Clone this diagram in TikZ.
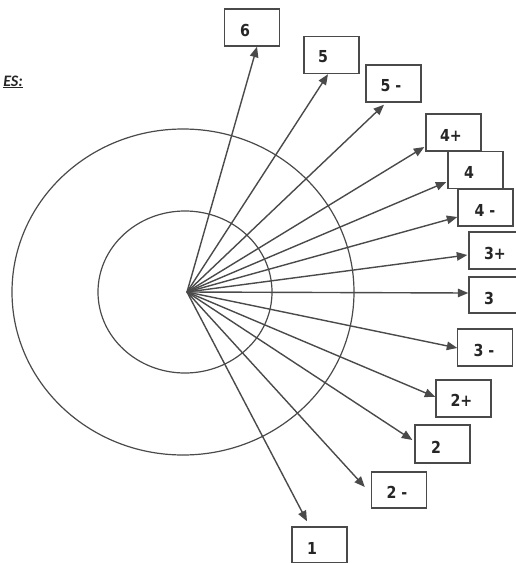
\documentclass[tikz,border=0pt]{standalone}
\usepackage{fontspec}
\usetikzlibrary{arrows.meta,calc}
\newfontfamily\lblfont[FakeStretch=0.86]{DejaVu Sans}
\newfontfamily\hdrfont{Carlito}
\definecolor{ink}{HTML}{4A4A4A}
\definecolor{txt}{HTML}{262626}
\begin{document}
\begin{tikzpicture}[x=1pt,y=-1pt,
  box/.style={draw=ink,line width=1.4pt,minimum width=55pt,minimum height=37pt,inner sep=0pt},
  lbl/.style={text=txt,font=\lblfont\bfseries\fontsize{16.5}{17}\selectfont,inner sep=0pt},
  ring/.style={draw=ink,line width=1.2pt},
  arr/.style={draw=ink,line width=1.4pt,-{Triangle[length=10.5pt,width=8.5pt]}}]
\useasboundingbox (0,0) rectangle (516,563);
% heading fragment
\node[anchor=base east,inner sep=0pt,text=txt,font=\hdrfont\bfseries\itshape\fontsize{16}{16}\selectfont] (hdr) at (23,86) {\underline{ES:}};
% rings
\draw[ring] (183,292) ellipse [x radius=171, y radius=163];
\draw[ring] (185,292) ellipse [x radius=87, y radius=81];
\coordinate (c) at (187,292);
% boxes
\node[box] (b6) at (252,27.5) {};
\node[box] (b5) at (331.5,55) {};
\node[box] (b5m) at (393.5,83.5) {};
\node[box] (b4p) at (453.5,132.5) {};
\node[box] (b4) at (475.5,170) {};
\node[box] (b4m) at (485.5,207.5) {};
\node[box] (b3p) at (496.5,250.5) {};
\node[box,minimum height=36pt] (b3) at (496.5,295) {};
\node[box] (b3m) at (485,347.5) {};
\node[box] (b2p) at (463.5,398.5) {};
\node[box,minimum height=38pt] (b2) at (442.5,444) {};
\node[box,minimum height=36pt] (b2m) at (399,490) {};
\node[box,minimum height=36pt] (b1) at (319.5,545) {};
% labels
\node[lbl] (t6) at (245,30) {6};
\node[lbl] (t5) at (323,57) {5};
\node[lbl] (t5m) at (391,86) {5 -};
\node[lbl] (t4p) at (451,135) {4+};
\node[lbl] (t4) at (469,172) {4};
\node[lbl] (t4m) at (485,210) {4 -};
\node[lbl] (t3p) at (495,253) {3+};
\node[lbl] (t3) at (489,298) {3};
\node[lbl] (t3m) at (484,350) {3 -};
\node[lbl] (t2p) at (461.5,400) {2+};
\node[lbl] (t2) at (436,447) {2};
\node[lbl] (t2m) at (397,492) {2 -};
\node[lbl] (t1) at (312,548) {1};
% arrows
\draw[arr] (c) -- ($(b6.south)+(5,0)$);
\draw[arr] (c) -- ($(b5.south)+(-3.5,0)$);
\draw[arr] (c) -- ($(b5m.south)+(-9.5,2)$);
\draw[arr] (c) -- ($(b4p.west)+(-1,14.5)$);
\draw[arr] (c) -- ($(b4.west)+(-1,12)$);
\draw[arr] (c) -- ($(b4m.west)+(0,9.5)$);
\draw[arr] (c) -- ($(b3p.west)+(-1,4.5)$);
\draw[arr] (c) -- ($(b3.west)+(0,-2)$);
\draw[arr] (c) -- ($(b3m.west)+(0.5,0.5)$);
\draw[arr] (c) -- ($(b2p.west)+(0,-1.5)$);
\draw[arr] (c) -- ($(b2.west)+(-2,-4)$);
\draw[arr] (c) -- ($(b2m.west)+(-6,-3)$);
\draw[arr] (c) -- ($(b1.north)+(-12.5,-5)$);
\end{tikzpicture}
\end{document}
